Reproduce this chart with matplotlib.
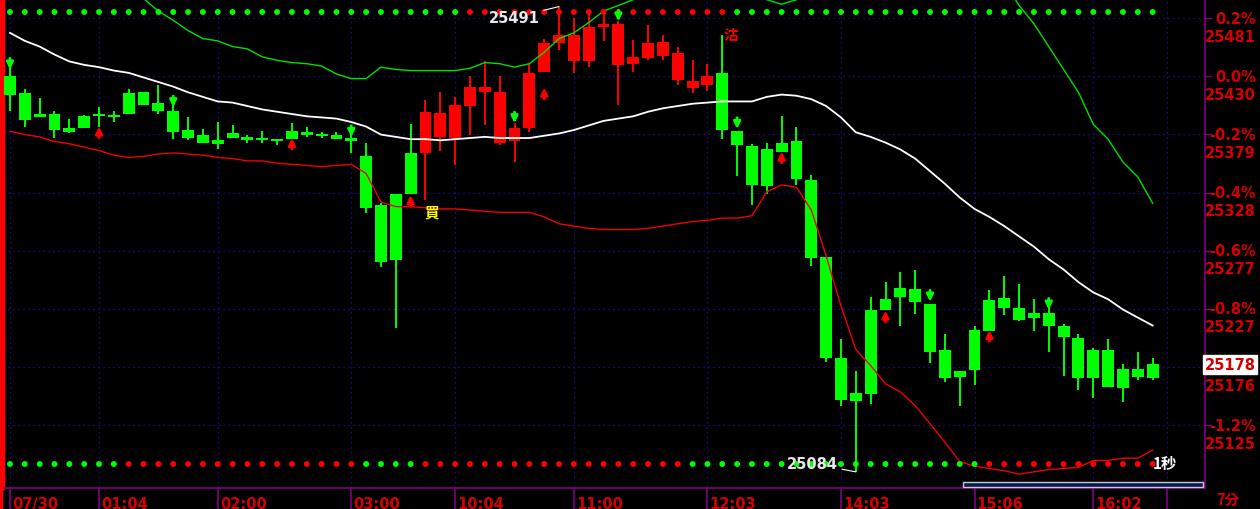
import numpy as np
import matplotlib.pyplot as plt
from matplotlib.transforms import blended_transform_factory
from matplotlib.patches import Rectangle

# --- candle data (body top / body bottom / high / low), 1 candle per 7 min bar ---
body_hi = [25430, 25415, 25397, 25397, 25385, 25395, 25397, 25396, 25415, 25416,
           25407, 25400, 25383, 25379, 25374, 25380, 25377, 25376, 25374, 25382,
           25381, 25379, 25379, 25376, 25360, 25317, 25327, 25363, 25399, 25398,
           25405, 25421, 25421, 25416, 25385, 25433, 25459, 25466, 25466, 25473,
           25476, 25476, 25447, 25459, 25460, 25450, 25426, 25430, 25433, 25382,
           25369, 25366, 25372, 25373, 25339, 25272, 25184, 25153, 25226, 25235,
           25245, 25244, 25231, 25191, 25172, 25208, 25234, 25236, 25227, 25223,
           25223, 25212, 25201, 25191, 25191, 25174, 25174, 25178]
body_lo = [25414, 25392, 25394, 25383, 25381, 25385, 25395, 25394, 25397, 25405,
           25400, 25381, 25376, 25372, 25371, 25376, 25374, 25374, 25373, 25375,
           25379, 25378, 25375, 25373, 25315, 25268, 25269, 25327, 25363, 25377,
           25376, 25404, 25416, 25372, 25373, 25385, 25434, 25459, 25443, 25443,
           25473, 25440, 25441, 25446, 25448, 25427, 25420, 25422, 25383, 25370,
           25335, 25334, 25364, 25340, 25271, 25184, 25147, 25146, 25152, 25226,
           25237, 25233, 25189, 25166, 25167, 25173, 25207, 25227, 25217, 25219,
           25212, 25202, 25166, 25166, 25158, 25157, 25167, 25166]
high = [25442, 25419, 25411, 25400, 25393, 25396, 25403, 25400, 25419, 25416,
        25422, 25406, 25394, 25384, 25390, 25387, 25379, 25382, 25374, 25389,
        25386, 25381, 25381, 25380, 25372, 25319, 25327, 25388, 25409, 25416,
        25412, 25430, 25443, 25430, 25389, 25441, 25463, 25491, 25481, 25487,
        25489, 25478, 25462, 25475, 25466, 25456, 25444, 25441, 25466, 25382,
        25371, 25372, 25395, 25386, 25344, 25272, 25200, 25172, 25237, 25250,
        25259, 25261, 25231, 25205, 25172, 25212, 25243, 25255, 25248, 25235,
        25235, 25213, 25205, 25192, 25200, 25178, 25189, 25184]
low = [25400, 25386, 25394, 25376, 25380, 25385, 25386, 25390, 25397, 25405,
       25397, 25375, 25374, 25372, 25366, 25376, 25372, 25372, 25370, 25375,
       25377, 25376, 25375, 25363, 25310, 25263, 25210, 25327, 25322, 25365,
       25352, 25379, 25387, 25370, 25355, 25381, 25434, 25453, 25433, 25438,
       25461, 25405, 25434, 25444, 25444, 25422, 25415, 25417, 25375, 25343,
       25317, 25327, 25364, 25335, 25264, 25180, 25142, 25084, 25143, 25226,
       25212, 25222, 25179, 25163, 25142, 25160, 25207, 25221, 25216, 25207,
       25189, 25168, 25156, 25149, 25158, 25145, 25164, 25164]
candle_col = ['g'] * 28 + ['r'] * 20 + ['g'] * 30

# --- band lines ---
nan = np.nan
mid = [25468, 25461, 25456, 25449, 25443, 25440, 25438, 25435, 25433, 25429,
       25425, 25421, 25416, 25412, 25408, 25407, 25404, 25401, 25399, 25397,
       25395, 25394, 25393, 25390, 25386, 25379, 25377, 25375, 25375, 25374,
       25375, 25376, 25377, 25376, 25376, 25376, 25378, 25380, 25383, 25387,
       25391, 25393, 25395, 25399, 25402, 25404, 25406, 25407, 25408, 25408,
       25408, 25412, 25414, 25413, 25410, 25404, 25394, 25381, 25377, 25372,
       25366, 25358, 25347, 25336, 25324, 25314, 25307, 25299, 25290, 25281,
       25270, 25261, 25250, 25241, 25235, 25226, 25219, 25212]
upper = [nan, nan, nan, nan, nan, nan, nan, nan, nan, 25498,
         25487, 25479, 25470, 25463, 25461, 25456, 25454, 25447, 25444, 25442,
         25441, 25439, 25432, 25428, 25428, 25438, 25436, 25435, 25435, 25435,
         25435, 25437, 25442, 25441, 25438, 25441, 25451, 25463, 25468, 25477,
         25487, 25492, 25497, 25502, 25505, 25508, 25509, 25508, 25505, 25503,
         25500, 25497, 25493, 25497, 25503, 25515, 25528, 25541, 25550, 25554,
         25555, 25554, 25552, 25548, 25543, 25536, 25527, 25513, 25492, 25476,
         25456, 25436, 25416, 25388, 25375, 25355, 25342, 25319]
lower = [25382, 25379, 25377, 25373, 25371, 25368, 25365, 25361, 25359, 25360,
         25362, 25363, 25362, 25361, 25359, 25358, 25356, 25356, 25354, 25353,
         25352, 25351, 25352, 25353, 25345, 25320, 25316, 25316, 25315, 25314,
         25314, 25313, 25312, 25311, 25311, 25311, 25307, 25301, 25299, 25297,
         25296, 25296, 25296, 25297, 25299, 25301, 25303, 25304, 25306, 25306,
         25308, 25329, 25335, 25333, 25313, 25273, 25229, 25191, 25177, 25161,
         25154, 25142, 25126, 25110, 25093, 25089, 25087, 25085, 25082, 25084,
         25086, 25087, 25088, 25094, 25094, 25096, 25096, 25103]

# --- trend dots (top / bottom rows) ---
top_dots = ['g'] * 31 + ['r'] * 18 + ['g'] * 29
bot_dots = ['g'] * 8 + ['r'] * 16 + ['g'] * 4 + ['r'] * 18 + ['g'] * 20 + ['r'] * 12

# --- signal arrows ---
sell_idx = [0, 11, 23, 34, 41, 49, 62, 70]
sell_px = [25436, 25403, 25377, 25389, 25478, 25384, 25233, 25226]
buy_idx = [6, 19, 27, 36, 52, 59, 66]
buy_px = [25386, 25376, 25326, 25420, 25364, 25225, 25208]

# --- axis labels ---
base = 25430
pct_levels = [0.2, 0.0, -0.2, -0.4, -0.6, -0.8, -1.0, -1.2]
time_idx = [0, 6, 14, 23, 30, 38, 47, 56, 65, 73]
time_labels = ['07/30', '01:04', '02:00', '03:00', '10:04', '11:00', '12:03', '14:03', '15:06', '16:02']
last_price = 25178
hi_mark, lo_mark = 25491, 25084

GREEN = '#00ff00'
RED = '#ff0000'
AXRED = '#d40000'
PURPLE = '#800080'
GRID = '#1414b4'
cmap = {'g': GREEN, 'r': RED}

fig = plt.figure(figsize=(12.6, 5.1), dpi=100, facecolor='black')
ax = fig.add_axes([3 / 1260, 21 / 510, 1202 / 1260, 489 / 510])
ax.set_facecolor('black')
ax.set_xlim(-0.47, 80.53)
ax.set_ylim(25069.9, 25497.6)

x = np.arange(len(body_hi))
levels = [base * (1 + p / 100) for p in pct_levels]

# grid
for lv in levels:
    ax.axhline(lv, color=GRID, lw=0.9, ls=(0, (1, 3)), zorder=0)
for i in time_idx + [78]:
    ax.axvline(i, color=GRID, lw=0.9, ls=(0, (1, 3)), zorder=0)

# candles
cols = [cmap[c] for c in candle_col]
ax.vlines(x, low, high, colors=cols, lw=1.4, zorder=2)
heights = np.maximum(np.array(body_hi) - np.array(body_lo), 1.8)
ax.bar(x, heights, bottom=body_lo, width=0.8, color=cols, linewidth=0, zorder=3)

# bands
ax.plot(x, upper, color='#00e000', lw=1.0, zorder=4)
ax.plot(x, mid, color='white', lw=1.3, zorder=4)
ax.plot(x, lower, color='#f00000', lw=1.0, zorder=4)

# dots
tr = blended_transform_factory(ax.transData, ax.transAxes)
ax.scatter(x, [1 - 13 / 489] * len(x), s=18, c=[cmap[c] for c in top_dots], transform=tr, zorder=5, linewidths=0)
ax.scatter(x, [1 - 465 / 489] * len(x), s=18, c=[cmap[c] for c in bot_dots], transform=tr, zorder=5, linewidths=0)

# signal arrows
for i, p in zip(sell_idx, sell_px):
    ax.annotate('', xy=(i, p), xytext=(0, 8), textcoords='offset points',
                arrowprops=dict(arrowstyle='-|>', color=GREEN, lw=2, mutation_scale=10,
                                shrinkA=0, shrinkB=0), zorder=6)
for i, p in zip(buy_idx, buy_px):
    ax.annotate('', xy=(i, p), xytext=(0, -8), textcoords='offset points',
                arrowprops=dict(arrowstyle='-|>', color=RED, lw=2, mutation_scale=10,
                                shrinkA=0, shrinkB=0), zorder=6)

cjk = ['Noto Sans CJK TC', 'DejaVu Sans']
ax.text(28.45, 25312, '買', color='#ffff00', fontsize=10.5, fontweight='bold',
        family=cjk, ha='center', va='center', zorder=7)
ax.text(48.55, 25467, '沽', color=RED, fontsize=10.5, fontweight='bold',
        family=cjk, ha='center', va='center', zorder=7)

# high / low marks
i_hi = int(np.argmax(high))
i_lo = int(np.argmin(low))
ax.annotate(str(hi_mark), xy=(i_hi, high[i_hi]), xytext=(-14, -8), textcoords='offset points',
            ha='right', va='center', color='#e8e8e8', fontsize=10.5, fontweight='bold',
            arrowprops=dict(arrowstyle='-', color='white', lw=0.8, shrinkA=1, shrinkB=0), zorder=7)
ax.annotate(str(lo_mark), xy=(i_lo, low[i_lo]), xytext=(-13, 6), textcoords='offset points',
            ha='right', va='center', color='#e8e8e8', fontsize=10.5, fontweight='bold',
            arrowprops=dict(arrowstyle='-', color='white', lw=0.8, shrinkA=1, shrinkB=0), zorder=7)
ax.text(77.0, 25092, '1秒', color='white', fontsize=11, fontweight='bold',
        family=cjk, ha='left', va='center', zorder=7)

# spines and ticks
ax.spines['top'].set_visible(False)
ax.spines['left'].set_color(RED)
ax.spines['left'].set_linewidth(2.5)
ax.spines['bottom'].set_color(PURPLE)
ax.spines['bottom'].set_linewidth(1.2)
ax.spines['right'].set_color(PURPLE)
ax.spines['right'].set_linewidth(1.2)
ax.set_xticks(time_idx + [78])
ax.set_xticklabels([])
ax.tick_params(axis='x', direction='out', length=15, width=1.2, color=PURPLE)
ax.yaxis.tick_right()
ax.set_yticks(levels)
ax.set_yticklabels([])
ax.tick_params(axis='y', direction='out', length=5, width=1, color=PURPLE)

for i, lab in zip(time_idx, time_labels):
    ax.annotate(lab, xy=(i, 0), xycoords=('data', 'axes fraction'), xytext=(1.5, -5.5),
                textcoords='offset points', ha='left', va='top', color=AXRED,
                fontsize=10.5, fontweight='bold', annotation_clip=False)

for p, lv in zip(pct_levels, levels):
    # the -1.0% tag sits under the last-price box in the original
    if abs(lv - last_price) > 5:
        ax.annotate(f'{p:.1f}%', xy=(1, lv), xycoords=('axes fraction', 'data'), xytext=(36.5, 0),
                    textcoords='offset points', ha='right', va='center', color=AXRED,
                    fontsize=10.5, fontweight='bold', annotation_clip=False)
    ax.annotate(f'{lv:.0f}', xy=(1, lv), xycoords=('axes fraction', 'data'), xytext=(36.5, -13),
                textcoords='offset points', ha='right', va='center', color=AXRED,
                fontsize=10.5, fontweight='bold', annotation_clip=False)

ax.annotate(str(last_price), xy=(1, last_price), xycoords=('axes fraction', 'data'), xytext=(36.5, 0),
            textcoords='offset points', ha='right', va='center', color=AXRED,
            fontsize=10.5, fontweight='bold', annotation_clip=False, zorder=10,
            bbox=dict(boxstyle='square,pad=0.12', fc='white', ec='white'))

fig.text(1216 / 1260, 2 / 510, '7分', color=AXRED, fontsize=10.5, fontweight='bold',
         family=cjk, ha='left', va='bottom')

# red left border over full height, scroll bar at bottom right
fig.patches.append(Rectangle((0, 0), 3 / 1260, 1, transform=fig.transFigure,
                             facecolor=RED, edgecolor='none'))
fig.patches.append(Rectangle((963 / 1260, 22 / 510), 240 / 1260, 5 / 510, transform=fig.transFigure,
                             facecolor='#0a1a50', edgecolor='#c8c8d8', lw=1.0))

fig.savefig('out.png', dpi=100, facecolor='black')
